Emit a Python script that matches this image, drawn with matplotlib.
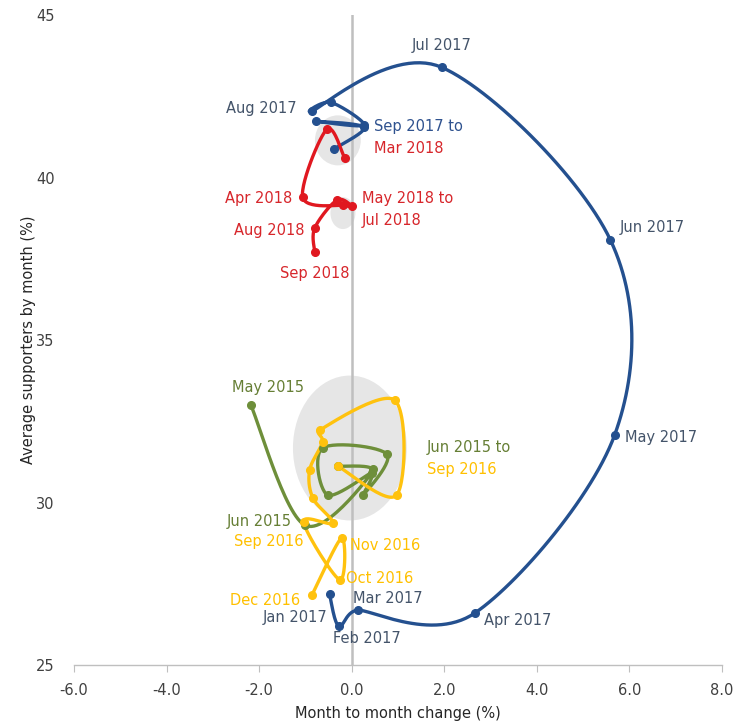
import numpy as np
import matplotlib
matplotlib.use("Agg")
import matplotlib.pyplot as plt
from matplotlib.patches import Ellipse

plt.rcParams['font.family'] = ['Liberation Sans Narrow', 'DejaVu Sans']

# green: May 2015 -> Jan 2016
green_x = [-2.18, -1.02, 0.43, -0.52, -0.63, 0.76, 0.24, 0.45, -0.30]
green_y = [33.00, 29.31, 30.91, 30.23, 31.68, 31.49, 30.23, 31.03, 31.12]
# yellow: Jan 2016 -> Dec 2016
yellow_x = [-0.30, 0.97, 0.93, -0.69, -0.63, -0.91, -0.84, -0.41, -1.04, -0.26, -0.22, -0.86]
yellow_y = [31.12, 30.23, 33.15, 32.23, 31.86, 31.00, 30.14, 29.37, 29.40, 27.62, 28.91, 27.15]
# blue: Jan 2017 -> early 2018
blue_x = [-0.48, -0.28, 0.13, 2.66, 5.68, 5.59, 1.94, -0.86, -0.45, 0.26, -0.78, 0.26, -0.39]
blue_y = [27.18, 26.20, 26.69, 26.60, 32.08, 38.08, 43.40, 42.05, 42.32, 41.62, 41.74, 41.55, 40.88]
# red: early 2018 -> Sep 2018
red_x = [-0.15, -0.54, -1.06, -0.19, 0.00, -0.32, -0.80, -0.80]
red_y = [40.60, 41.49, 39.40, 39.15, 39.12, 39.31, 38.45, 37.71]

# grey highlight areas (centre x, centre y, width, height)
blobs = [(-0.04, 31.68, 2.46, 4.46), (-0.30, 41.15, 0.99, 1.54), (-0.19, 38.91, 0.54, 0.98)]

xticks = [-6, -4, -2, 0, 2, 4, 6, 8]
yticks = [25, 30, 35, 40, 45]

BLUE = '#24508F'
RED = '#E01820'
GREEN = '#6E8F3A'
YELLOW = '#FFC20E'
BLUE_TXT = '#44546A'
RED_TXT = '#D7262B'
GREEN_TXT = '#667F35'
YELLOW_TXT = '#FFC000'

# labels: (text, series, point index, offset in pixels, ha, colour)
labels = [
    ('Jul 2017', 'blue', 6, (0, 22), 'center', BLUE_TXT),
    ('Aug 2017', 'blue', 7, (-15, 3), 'right', BLUE_TXT),
    ('Jun 2017', 'blue', 5, (9, 13), 'left', BLUE_TXT),
    ('May 2017', 'blue', 4, (10, -2), 'left', BLUE_TXT),
    ('Apr 2017', 'blue', 3, (9, -7), 'left', BLUE_TXT),
    ('Mar 2017', 'blue', 2, (-5, 12), 'left', BLUE_TXT),
    ('Feb 2017', 'blue', 1, (-6, -12), 'left', BLUE_TXT),
    ('Jan 2017', 'blue', 0, (-2, -23), 'right', BLUE_TXT),
    ('Dec 2016', 'yellow', 11, (-12, -5), 'right', YELLOW_TXT),
    ('Oct 2016', 'yellow', 9, (6, 1), 'left', YELLOW_TXT),
    ('Nov 2016', 'yellow', 10, (8, -7), 'left', YELLOW_TXT),
    ('Sep 2016', 'yellow', 8, (0, -19), 'right', YELLOW_TXT),
    ('Jun 2015', 'green', 1, (-13, 4), 'right', GREEN_TXT),
    ('May 2015', 'green', 0, (17, 18), 'center', GREEN_TXT),
    ('Jun 2015 to', 'yellow', 1, (30, 48), 'left', GREEN_TXT),
    ('Sep 2016', 'yellow', 1, (30, 26), 'left', YELLOW_TXT),
    ('Sep 2017 to', 'blue', 9, (10, -1), 'left', '#2F528F'),
    ('Mar 2018', 'blue', 9, (10, -23), 'left', RED_TXT),
    ('Apr 2018', 'red', 2, (-10, -1), 'right', RED_TXT),
    ('May 2018 to', 'red', 4, (10, 8), 'left', RED_TXT),
    ('Jul 2018', 'red', 4, (10, -14), 'left', RED_TXT),
    ('Aug 2018', 'red', 6, (-10, -2), 'right', RED_TXT),
    ('Sep 2018', 'red', 7, (0, -21), 'center', RED_TXT),
]

# rough screen scale (px per unit) so the smoothing works in screen space
SX, SY = 46.3, 32.5


def smooth(x, y, n=30):
    # cubic bezier through the points, tangents like Catmull-Rom but
    # limited by the shorter neighbouring segment (keeps sharp turns tight)
    p = np.column_stack([np.asarray(x) * SX, np.asarray(y) * SY])
    m = len(p)
    tang = np.zeros_like(p)
    for i in range(m):
        a = p[max(i - 1, 0)]
        b = p[min(i + 1, m - 1)]
        d = (b - a) / 6.0
        segs = []
        if i > 0:
            segs.append(np.linalg.norm(p[i] - p[i - 1]))
        if i < m - 1:
            segs.append(np.linalg.norm(p[i + 1] - p[i]))
        lim = 0.5 * min(segs)
        L = np.linalg.norm(d)
        if L > lim and L > 0:
            d = d * lim / L
        tang[i] = d
    t = np.linspace(0, 1, n)[:, None]
    out = []
    for i in range(m - 1):
        p0 = p[i]
        p1 = p[i] + tang[i]
        p2 = p[i + 1] - tang[i + 1]
        p3 = p[i + 1]
        seg = ((1 - t) ** 3) * p0 + 3 * ((1 - t) ** 2) * t * p1 + 3 * (1 - t) * t ** 2 * p2 + t ** 3 * p3
        out.append(seg)
    out = np.vstack(out)
    return out[:, 0] / SX, out[:, 1] / SY


fig = plt.figure(figsize=(7.33, 7.28), dpi=100)
ax = fig.add_axes([0.101, 0.0865, 0.884, 0.8925])

for cx, cy, w, h in blobs:
    ax.add_patch(Ellipse((cx, cy), w, h, facecolor='#E6E6E6', edgecolor='none', zorder=1))

ax.axvline(0, color='#BFBFBF', lw=1.8, zorder=2)

series = {
    'green': (green_x, green_y, GREEN),
    'yellow': (yellow_x, yellow_y, YELLOW),
    'blue': (blue_x, blue_y, BLUE),
    'red': (red_x, red_y, RED),
}
for name in ['green', 'yellow', 'blue', 'red']:
    xs, ys, c = series[name]
    sx, sy = smooth(xs, ys)
    ax.plot(sx, sy, color=c, lw=2.4, solid_capstyle='round', zorder=3)
    ax.plot(xs, ys, 'o', color=c, ms=5.5, zorder=4)

for text, name, idx, off, ha, c in labels:
    xs, ys, _ = series[name]
    ax.annotate(text, (xs[idx], ys[idx]), xytext=off, textcoords='offset pixels',
                ha=ha, va='center', color=c, fontsize=10.5, zorder=5)

ax.set_xlim(-6, 8)
ax.set_ylim(25, 45)
ax.set_xticks(xticks)
ax.set_xticklabels(['%.1f' % v for v in xticks])
ax.set_yticks(yticks)
for s in ['top', 'right', 'left']:
    ax.spines[s].set_visible(False)
ax.spines['bottom'].set_color('#BFBFBF')
ax.spines['bottom'].set_linewidth(1.0)
ax.tick_params(axis='x', direction='out', length=5, color='#BFBFBF', pad=8,
               labelsize=10.5, labelcolor='#404040')
ax.tick_params(axis='y', length=0, pad=14, labelsize=10.5, labelcolor='#404040')
ax.set_xlabel('Month to month change (%)', fontsize=10.5, color='#262626', labelpad=6)
ax.set_ylabel('Average supporters by month (%)', fontsize=10.5, color='#262626', labelpad=0)

fig.savefig('out.png', dpi=100)
